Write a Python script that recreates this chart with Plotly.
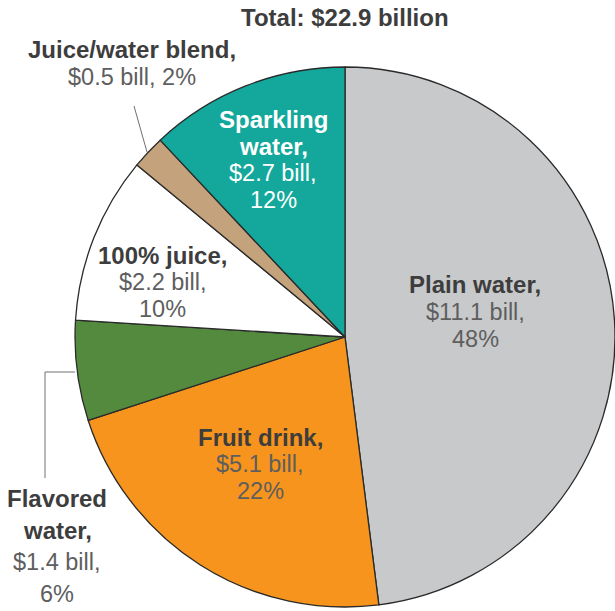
import plotly.graph_objects as go

# Beverage sales by category
categories = ["Plain water", "Fruit drink", "Flavored water", "100% juice",
              "Juice/water blend", "Sparkling water"]
sales_bill = [11.1, 5.1, 1.4, 2.2, 0.5, 2.7]
share_pct = [48, 22, 6, 10, 2, 12]
total_bill = 22.9

colors = ["#c8c9cb", "#f7941d", "#548a3e", "#ffffff", "#c4a27c", "#13a89b"]

W, H = 615, 611
DARK = "#3d3d3d"
GRAY = "#5e5e5e"
FONT = "Liberation Sans, Arial, Helvetica, sans-serif"
TITLE_SIZE = 24
DETAIL_SIZE = 23.5


def px(x, y):
    return x / W, 1 - y / H


fig = go.Figure(go.Pie(
    labels=categories,
    values=share_pct,
    sort=False,
    direction="clockwise",
    rotation=0,
    marker=dict(colors=colors, line=dict(color="#2a2a2a", width=1.3)),
    textinfo="none",
    hoverinfo="label+value",
    showlegend=False,
    domain=dict(x=[75 / W, 615 / W], y=[(H - 607) / H, (H - 67) / H]),
))


def label(title_lines, detail_lines, cx, y0, step, title_color=DARK, detail_color=GRAY):
    anns = []
    y = y0
    for t in title_lines:
        x, yy = px(cx, y)
        anns.append(dict(x=x, y=yy, xref="paper", yref="paper", text=f"<b>{t}</b>",
                         showarrow=False, xanchor="center", yanchor="middle",
                         font=dict(family=FONT, size=TITLE_SIZE, color=title_color)))
        y += step
    for t in detail_lines:
        x, yy = px(cx, y)
        anns.append(dict(x=x, y=yy, xref="paper", yref="paper", text=t,
                         showarrow=False, xanchor="center", yanchor="middle",
                         font=dict(family=FONT, size=DETAIL_SIZE, color=detail_color)))
        y += step
    return anns


def bill(i):
    return f"${sales_bill[i]} bill,"


def pct(i):
    return f"{share_pct[i]}%"


annotations = []
annotations += label([f"Total: ${total_bill} billion"], [], 345, 18, 27)
annotations += label(["Juice/water blend,"], [f"{bill(4)} {pct(4)}"], 132, 50, 27)
annotations += label(["Sparkling", "water,"], [bill(5), pct(5)], 273, 119, 27,
                     title_color="#ffffff", detail_color="#ffffff")
annotations += label(["100% juice,"], [bill(3), pct(3)], 163, 255, 27)
annotations += label(["Plain water,"], [bill(0), pct(0)], 475, 285, 27)
annotations += label(["Fruit drink,"], [bill(1), pct(1)], 260, 437, 27)
annotations += label(["Flavored", "water,"], [bill(2), pct(2)], 57, 498, 32)

line_style = dict(color="#707070", width=1)
shapes = []
# leader for the juice/water blend slice
x0, y0 = px(134, 106)
x1, y1 = px(147, 152)
shapes.append(dict(type="line", xref="paper", yref="paper", x0=x0, y0=y0, x1=x1, y1=y1,
                   line=line_style))
# elbow leader for the flavored water slice
xa, ya = px(75, 372)
xb, yb = px(45, 372)
xc, yc = px(45, 478)
shapes.append(dict(type="path", xref="paper", yref="paper",
                   path=f"M {xa} {ya} L {xb} {yb} L {xc} {yc}", line=line_style))

fig.update_layout(
    width=W, height=H,
    margin=dict(l=0, r=0, t=0, b=0),
    paper_bgcolor="white",
    plot_bgcolor="white",
    annotations=annotations,
    shapes=shapes,
)

fig.write_html("out.html")
